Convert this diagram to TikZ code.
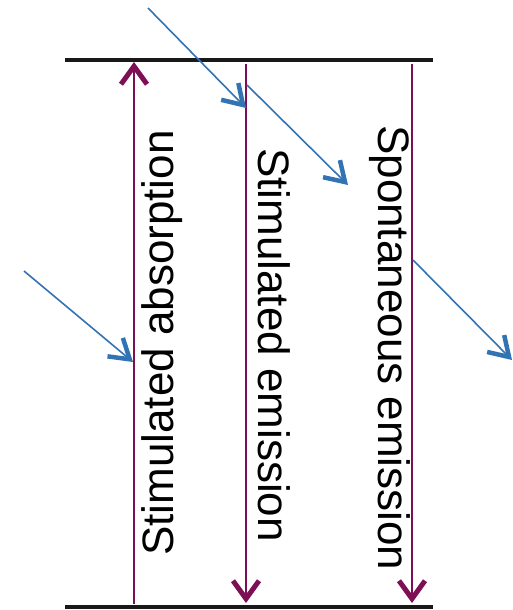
\documentclass[tikz,border=0pt]{standalone}
\usepackage{fontspec}
\setmainfont{Liberation Sans}
\usetikzlibrary{arrows.meta}
\definecolor{levelpurple}{RGB}{125,15,85}
\definecolor{photonblue}{RGB}{50,115,180}
\begin{document}
\begin{tikzpicture}[x=1pt,y=-1pt,
  level/.style={line width=4pt,black!90},
  transition/.style={levelpurple,line width=1.8pt,
    -{Straight Barb[length=18pt,width=26pt,line width=5pt]}},
  photon/.style={photonblue,line width=1.6pt,
    -{Straight Barb[length=19pt,width=24pt,line width=4.5pt]}},
  lbl/.style={inner sep=0pt,anchor=base west,font=\fontsize{44}{50}\selectfont}]
\useasboundingbox (0,0) rectangle (513,610);
% energy levels
\coordinate (tl) at (65,60);
\coordinate (tr) at (433,60);
\coordinate (bl) at (65,607);
\coordinate (br) at (433,607);
\draw[level] (tl) -- (tr);
\draw[level] (bl) -- (br);
% transitions
\coordinate (a0) at (134,604);
\coordinate (a1) at (134,62);
\coordinate (b0) at (246,64);
\coordinate (b1) at (246,603);
\coordinate (c0) at (412,64);
\coordinate (c1) at (412,603);
\draw[transition] (a0) -- (a1);
\draw[transition] (b0) -- (b1);
\draw[transition] (c0) -- (c1);
% photons
\coordinate (p1s) at (148,8);
\coordinate (p1e) at (246,108);
\coordinate (p2s) at (247,85);
\coordinate (p2e) at (348,185);
\coordinate (p3s) at (24,271);
\coordinate (p3e) at (133,362);
\coordinate (p4s) at (413,260);
\coordinate (p4e) at (512,360);
\draw[photon] (p1s) -- (p1e);
\draw[photon] (p2s) -- (p2e);
\draw[photon] (p3s) -- (p3e);
\draw[photon] (p4s) -- (p4e);
% labels
\node[lbl,rotate=90] (labs) at (173,556) {Stimulated absorption};
\node[lbl,rotate=-90] (lstim) at (258,148) {Stimulated emission};
\node[lbl,rotate=-90] (lspon) at (378,125) {Spontaneous emission};
\end{tikzpicture}
\end{document}
